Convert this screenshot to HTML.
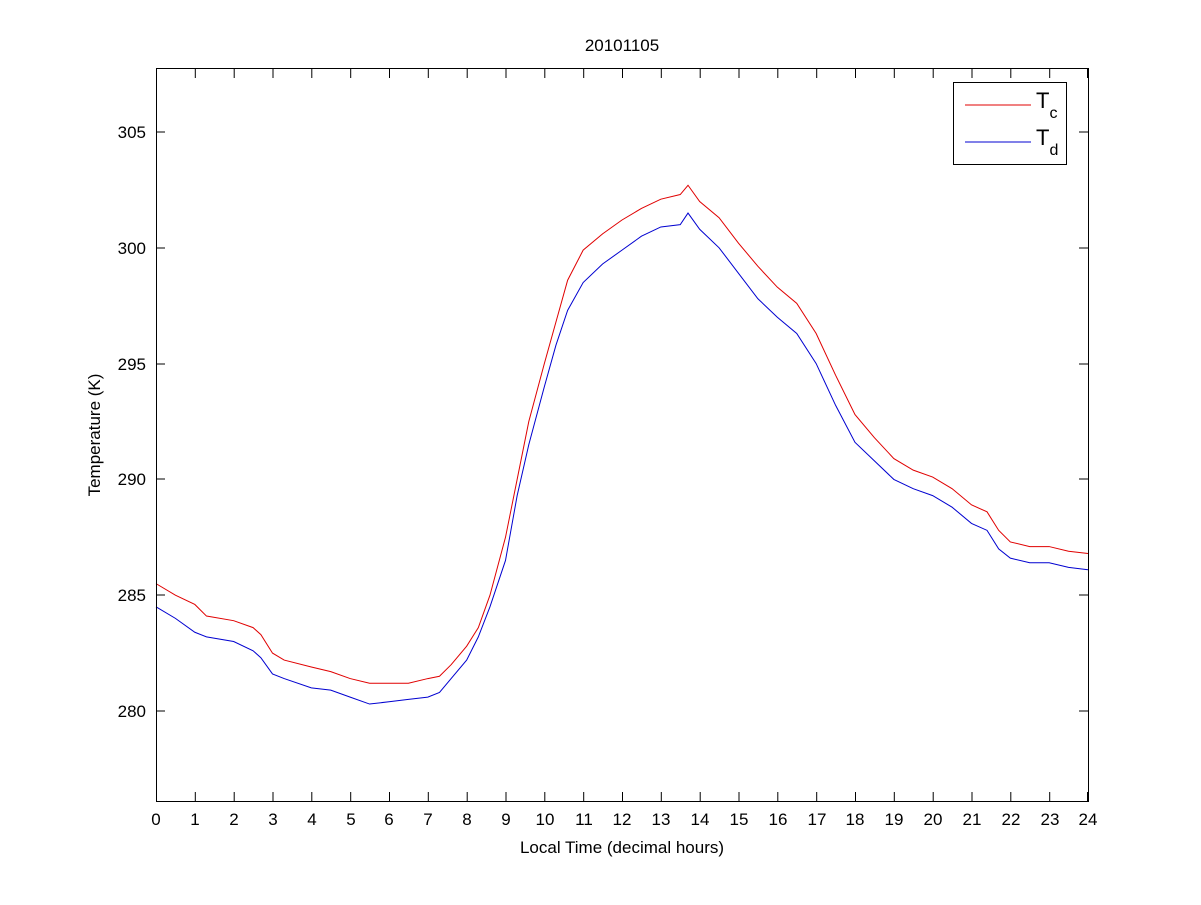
<!DOCTYPE html>
<html><head><style>
body{margin:0;background:#fff;}
svg text{font-family:"Liberation Sans",Arial,sans-serif;fill:#000;}
</style></head><body>
<svg width="1201" height="900" xmlns="http://www.w3.org/2000/svg">
<rect width="1201" height="900" fill="#fff"/>
<g transform="translate(156,711) scale(38.833,-23.16)" fill="none">
<polyline vector-effect="non-scaling-stroke" stroke="#e00000" stroke-width="1" points="0,5.5 0.5,5.0 1,4.6 1.3,4.1 2,3.9 2.5,3.6 2.7,3.3 3,2.5 3.3,2.2 4,1.9 4.5,1.7 5,1.4 5.5,1.2 6,1.2 6.5,1.2 7,1.4 7.3,1.5 7.6,2.0 8,2.8 8.3,3.6 8.6,5.0 9,7.5 9.3,10 9.6,12.5 10,15 10.3,16.8 10.6,18.6 11,19.9 11.5,20.6 12,21.2 12.5,21.7 13,22.1 13.5,22.3 13.7,22.7 14,22.0 14.5,21.3 15,20.2 15.5,19.2 16,18.3 16.5,17.6 17,16.3 17.5,14.5 18,12.8 18.5,11.8 19,10.9 19.5,10.4 20,10.1 20.5,9.6 21,8.9 21.4,8.6 21.7,7.8 22,7.3 22.5,7.1 23,7.1 23.5,6.9 24,6.8"/>
<polyline vector-effect="non-scaling-stroke" stroke="#0000d0" stroke-width="1" points="0,4.5 0.5,4.0 1,3.4 1.3,3.2 2,3.0 2.5,2.6 2.7,2.3 3,1.6 3.3,1.4 4,1.0 4.5,0.9 5,0.6 5.5,0.3 6,0.4 6.5,0.5 7,0.6 7.3,0.8 7.6,1.4 8,2.2 8.3,3.2 8.6,4.5 9,6.5 9.3,9.3 9.6,11.5 10,14 10.3,15.8 10.6,17.3 11,18.5 11.5,19.3 12,19.9 12.5,20.5 13,20.9 13.5,21.0 13.7,21.5 14,20.8 14.5,20.0 15,18.9 15.5,17.8 16,17.0 16.5,16.3 17,15.0 17.5,13.2 18,11.6 18.5,10.8 19,10.0 19.5,9.6 20,9.3 20.5,8.8 21,8.1 21.4,7.8 21.7,7.0 22,6.6 22.5,6.4 23,6.4 23.5,6.2 24,6.1"/>
</g>
<rect x="156.5" y="68.5" width="932" height="733" fill="none" stroke="#000"/>
<g stroke="#000">
<path d="M156,132h9M156,248h9M156,364h9M156,479h9M156,595h9M156,711h9M1088,132h-9M1088,248h-9M1088,364h-9M1088,479h-9M1088,595h-9M1088,711h-9"/>
<path d="M156.5,801v-9M195.3,801v-9M234.2,801v-9M273,801v-9M311.8,801v-9M350.7,801v-9M389.5,801v-9M428.3,801v-9M467.2,801v-9M506,801v-9M544.8,801v-9M583.7,801v-9M622.5,801v-9M661.3,801v-9M700.2,801v-9M739,801v-9M777.8,801v-9M816.7,801v-9M855.5,801v-9M894.3,801v-9M933.2,801v-9M972,801v-9M1010.8,801v-9M1049.7,801v-9M1087.5,801v-9"/>
<path d="M156.5,69v9M195.3,69v9M234.2,69v9M273,69v9M311.8,69v9M350.7,69v9M389.5,69v9M428.3,69v9M467.2,69v9M506,69v9M544.8,69v9M583.7,69v9M622.5,69v9M661.3,69v9M700.2,69v9M739,69v9M777.8,69v9M816.7,69v9M855.5,69v9M894.3,69v9M933.2,69v9M972,69v9M1010.8,69v9M1049.7,69v9M1087.5,69v9"/>
</g>
<g font-size="17" text-anchor="end">
<text x="146" y="138">305</text><text x="146" y="254">300</text><text x="146" y="370">295</text><text x="146" y="485">290</text><text x="146" y="601">285</text><text x="146" y="717">280</text>
</g>
<g font-size="17" text-anchor="middle">
<text x="156" y="825">0</text><text x="195" y="825">1</text><text x="234" y="825">2</text><text x="273" y="825">3</text><text x="312" y="825">4</text><text x="351" y="825">5</text><text x="389" y="825">6</text><text x="428" y="825">7</text><text x="467" y="825">8</text><text x="506" y="825">9</text><text x="545" y="825">10</text><text x="584" y="825">11</text><text x="622" y="825">12</text><text x="661" y="825">13</text><text x="700" y="825">14</text><text x="739" y="825">15</text><text x="778" y="825">16</text><text x="817" y="825">17</text><text x="855" y="825">18</text><text x="894" y="825">19</text><text x="933" y="825">20</text><text x="972" y="825">21</text><text x="1011" y="825">22</text><text x="1050" y="825">23</text><text x="1088" y="825">24</text>
<text x="622" y="853">Local Time (decimal hours)</text>
<text x="622" y="51">20101105</text>
<text transform="translate(100,435) rotate(-90)">Temperature (K)</text>
</g>
<rect x="953.5" y="82.5" width="113" height="82" fill="#fff" stroke="#000"/>
<line x1="965" y1="105" x2="1031" y2="105" stroke="#e00000"/>
<line x1="965" y1="142" x2="1031" y2="142" stroke="#0000d0"/>
<text x="1036" y="108" font-size="22">T<tspan font-size="16" dy="10">c</tspan></text>
<text x="1036" y="145" font-size="22">T<tspan font-size="16" dy="10">d</tspan></text>
</svg>
</body></html>
